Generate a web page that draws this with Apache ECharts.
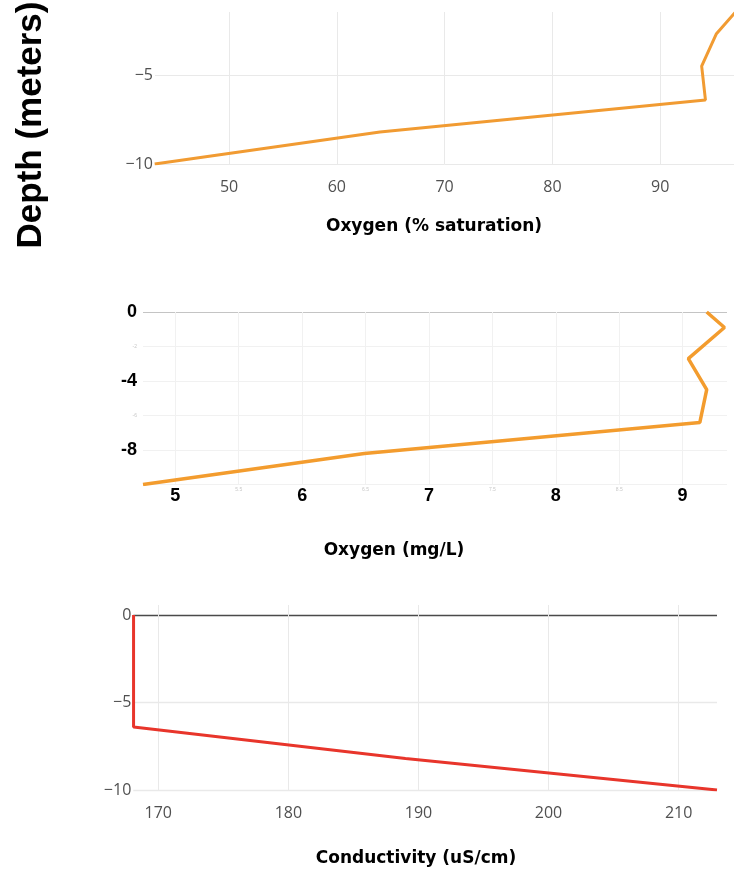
<!DOCTYPE html>
<html>
<head>
<meta charset="utf-8">
<script src="https://cdn.jsdelivr.net/npm/echarts@6/dist/echarts.min.js"></script>
<style>
html,body{margin:0;padding:0;background:#fff;}
#chart{width:734px;height:877px;}
</style>
</head>
<body>
<div id="chart"></div>
<script>
// ---- data ----
const depths       = [0, -0.9, -2.7, -4.5, -6.4, -8.2, -10];
const oxygenSat    = [96.2, 97.8, 95.2, 93.85, 94.2, 64.0, 43.1];
const oxygenMgL    = [9.19, 9.33, 9.045, 9.19, 9.136, 6.49, 4.745];
const conductivity = [168.1, 168.1, 168.1, 168.1, 168.1, 189.0, 212.95];

const satTicks   = [50, 60, 70, 80, 90];
const mgTicksMaj = [5, 6, 7, 8, 9];
const mgTicksMin = [5.5, 6.5, 7.5, 8.5];
const condTicks  = [170, 180, 190, 200, 210];
const depthTicksA = [-10, -5];
const depthTicksB = [0, -4, -8];
const depthTicksBmin = [-2, -6];
const depthTicksC = [-10, -5, 0];

const titleSat  = 'Oxygen (% saturation)';
const titleMg   = 'Oxygen (mg/L)';
const titleCond = 'Conductivity (uS/cm)';
const titleDepth = 'Depth (meters)';

// ---- helpers ----
const pairs = (xs) => xs.map((x, i) => [x, depths[i]]);
const near = (v, list) => list.some(t => Math.abs(t - v) < 1e-6);
const minus = (v) => (v < 0 ? '\u2212' + (-v) : String(v));

const grayLabel = {color: '#505050', fontFamily: 'Open Sans', fontSize: 16};
const gridCol = '#e9e9e9';
const faint = '#f1f1f1';

const chart = echarts.init(document.getElementById('chart'), null, {renderer: 'canvas'});

const option = {
  backgroundColor: '#fff',
  animation: false,
  grid: [
    {left: 155, top: 12, width: 579, height: 152, outerBoundsMode: 'none', containLabel: false},
    {left: 143, top: 312, width: 584, height: 172.5, outerBoundsMode: 'none', containLabel: false},
    {left: 133.3, top: 605, width: 583.7, height: 185, outerBoundsMode: 'none', containLabel: false}
  ],
  xAxis: [
    {
      gridIndex: 0, type: 'value', min: 43.13, max: 96.85, splitNumber: 5,
      axisLine: {show: false}, axisTick: {show: false},
      axisLabel: Object.assign({margin: 15, showMinLabel: false, showMaxLabel: false,
        formatter: v => near(v, satTicks) ? String(v) : ''}, grayLabel),
      splitLine: {show: true, lineStyle: {color: ['transparent', gridCol, gridCol, gridCol, gridCol, gridCol, 'transparent'], width: 1}}
    },
    {
      gridIndex: 1, type: 'value', min: 4.745, max: 9.35, splitNumber: 9,
      axisLine: {show: false}, axisTick: {show: false},
      axisLabel: {margin: 3, showMinLabel: false, showMaxLabel: false,
        formatter: v => near(v, mgTicksMaj) ? '{maj|' + v + '}' : (near(v, mgTicksMin) ? '{mn|' + v + '}' : ''),
        rich: {
          maj: {color: '#000', fontFamily: 'Liberation Sans', fontWeight: 'bold', fontSize: 18},
          mn: {color: '#c8c8c8', fontFamily: 'Liberation Sans', fontSize: 5}
        }},
      splitLine: {show: true, lineStyle: {color: ['transparent', faint, faint, faint, faint, faint, faint, faint, faint, faint, 'transparent'], width: 1}}
    },
    {
      gridIndex: 2, type: 'value', min: 168.08, max: 212.95, splitNumber: 5,
      axisLine: {show: false}, axisTick: {show: false},
      axisLabel: Object.assign({margin: 15, showMinLabel: false, showMaxLabel: false,
        formatter: v => near(v, condTicks) ? String(v) : ''}, grayLabel),
      splitLine: {show: true, lineStyle: {color: ['transparent', gridCol, gridCol, gridCol, gridCol, gridCol, 'transparent'], width: 1}}
    }
  ],
  yAxis: [
    {
      gridIndex: 0, type: 'value', min: -10, max: -1.46, interval: 5,
      axisLine: {show: false}, axisTick: {show: false},
      axisLabel: Object.assign({margin: 2, showMaxLabel: false,
        formatter: v => near(v, depthTicksA) ? minus(v) : ''}, grayLabel),
      splitLine: {show: true, lineStyle: {color: [gridCol, gridCol, 'transparent'], width: 1}}
    },
    {
      gridIndex: 1, type: 'value', min: -10, max: 0, interval: 2,
      axisLine: {show: false}, axisTick: {show: false},
      axisLabel: {margin: 6, showMinLabel: false,
        formatter: v => near(v, depthTicksB) ? '{maj|' + v + '}' : (near(v, depthTicksBmin) ? '{mn|' + v + '}' : ''),
        rich: {
          maj: {color: '#000', fontFamily: 'Liberation Sans', fontWeight: 'bold', fontSize: 18},
          mn: {color: '#c8c8c8', fontFamily: 'Liberation Sans', fontSize: 5}
        }},
      splitLine: {show: true, lineStyle: {color: [faint, faint, faint, faint, faint, '#c4c4c4'], width: 1}}
    },
    {
      gridIndex: 2, type: 'value', min: -10, max: 0.57, interval: 5,
      axisLine: {show: false}, axisTick: {show: false},
      axisLabel: Object.assign({margin: 2, showMaxLabel: false,
        formatter: v => near(v, depthTicksC) ? minus(v) : ''}, grayLabel),
      splitLine: {show: true, lineStyle: {color: [gridCol, gridCol, '#4a4a4a', 'transparent'], width: 1.3}}
    }
  ],
  series: [
    {type: 'line', xAxisIndex: 0, yAxisIndex: 0, data: pairs(oxygenSat), symbol: 'none', clip: true,
     lineStyle: {color: '#f19b32', width: 3}},
    {type: 'line', xAxisIndex: 1, yAxisIndex: 1, data: pairs(oxygenMgL), symbol: 'none', clip: true,
     lineStyle: {color: '#f39c2e', width: 3.5}},
    {type: 'line', xAxisIndex: 2, yAxisIndex: 2, data: pairs(conductivity), symbol: 'none', clip: true,
     lineStyle: {color: '#e8352b', width: 3}}
  ],
  graphic: [
    {type: 'text', x: 31, y: 125, rotation: Math.PI / 2,
     style: {text: titleDepth, fill: '#000', font: 'bold 35px "Liberation Sans", Arial, sans-serif', align: 'center', verticalAlign: 'middle'}},
    {type: 'text', x: 434, y: 227,
     style: {text: titleSat, fill: '#000', font: 'bold 17px "DejaVu Sans", sans-serif', align: 'center', verticalAlign: 'middle'}},
    {type: 'text', x: 394, y: 551,
     style: {text: titleMg, fill: '#000', font: 'bold 17px "DejaVu Sans", sans-serif', align: 'center', verticalAlign: 'middle'}},
    {type: 'text', x: 416, y: 859,
     style: {text: titleCond, fill: '#000', font: 'bold 17px "DejaVu Sans", sans-serif', align: 'center', verticalAlign: 'middle'}}
  ]
};
chart.setOption(option);
</script>
</body>
</html>
